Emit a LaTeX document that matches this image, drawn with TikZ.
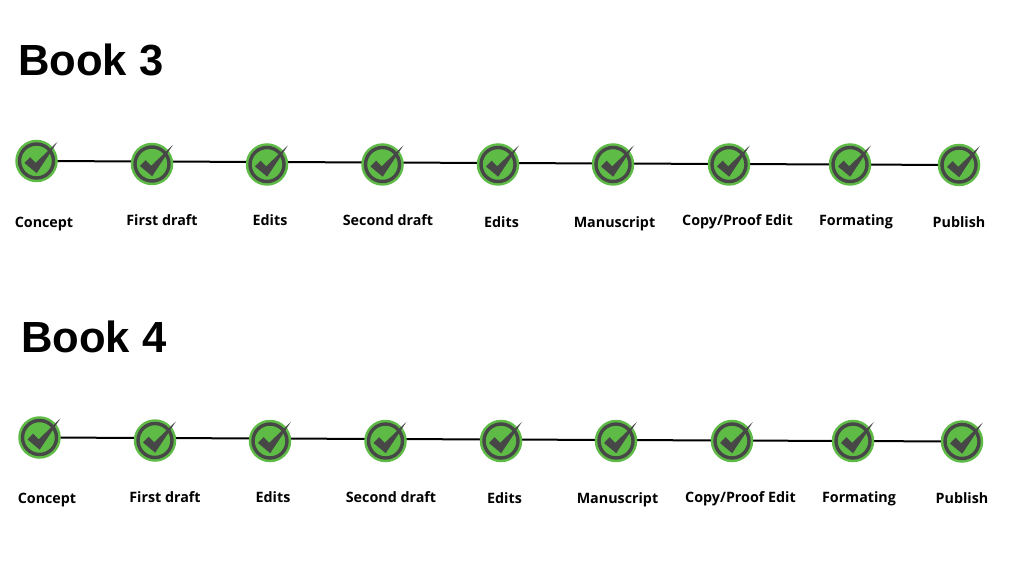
\documentclass[tikz,border=0pt]{standalone}
\usepackage{fontspec}
\usetikzlibrary{backgrounds}
\setmainfont{Open Sans}
\newfontfamily\titlefont{Liberation Sans}
\definecolor{tickgreen}{HTML}{5DBB46}
\definecolor{tickgrey}{HTML}{474747}
\tikzset{
  mark disc/.style={circle,fill=tickgreen,draw=none,minimum size=42.5pt,inner sep=0pt},
  stage label/.style={font=\bfseries\fontsize{14.3}{16}\selectfont,text=black,anchor=center,inner sep=0pt,text height=11pt,text depth=3pt},
  book title/.style={font=\titlefont\bfseries\fontsize{43.6}{50}\selectfont,anchor=west,inner sep=0pt},
  timeline/.style={draw=black,line width=2pt},
  pics/tickmark/.style={code={
    \draw[tickgrey,line width=3.4pt] (0,0) circle (17pt);
    \fill[tickgrey] (-12pt,-2pt) -- (-6.3pt,3.8pt) -- (-0.8pt,-1.8pt) -- (21pt,19.2pt) -- (0.2pt,-12.2pt) -- cycle;
  }}
}
\begin{document}
\begin{tikzpicture}[x=1pt,y=-1pt]
\useasboundingbox (0,0) rectangle (1024,577);
\node[book title] (t3) at (18,60) {Book 3};
\node[book title] (t4) at (21,337) {Book 4};
\foreach \r/\dx/\dy in {a/0/0,b/3/276.5}{
  \begin{scope}[shift={(\dx,\dy)}]
  \foreach \i/\x/\y/\lx/\ly/\txt in {
    1/36.5/161/44/223/{Concept},
    2/152/164/162/221.5/{First draft},
    3/267/164.5/270/221.5/{Edits},
    4/382.5/164.5/388/221.5/{Second draft},
    5/498/164.5/501.5/223/{Edits},
    6/613/164.5/614.5/223/{Manuscript},
    7/729/164.5/737.5/221.5/{Copy/Proof Edit},
    8/850/164.5/856/221.5/{Formating},
    9/959/165/959/223/{Publish}}{
    \node[mark disc] (\r\i) at (\x,\y) {};
    \node[stage label] (\r l\i) at (\lx,\ly) {\txt};
    \coordinate (\r p\i) at (\x,{161+4*(\x-36.5)/922.5});
    \pic at (\x,\y) {tickmark};
  }
  \begin{pgfonlayer}{background}
  \foreach \i/\j in {1/2,2/3,3/4,4/5,5/6,6/7,7/8,8/9}{
    \draw[timeline] (\r p\i) -- (\r p\j);
  }
  \end{pgfonlayer}
  \end{scope}
}
\end{tikzpicture}
\end{document}
